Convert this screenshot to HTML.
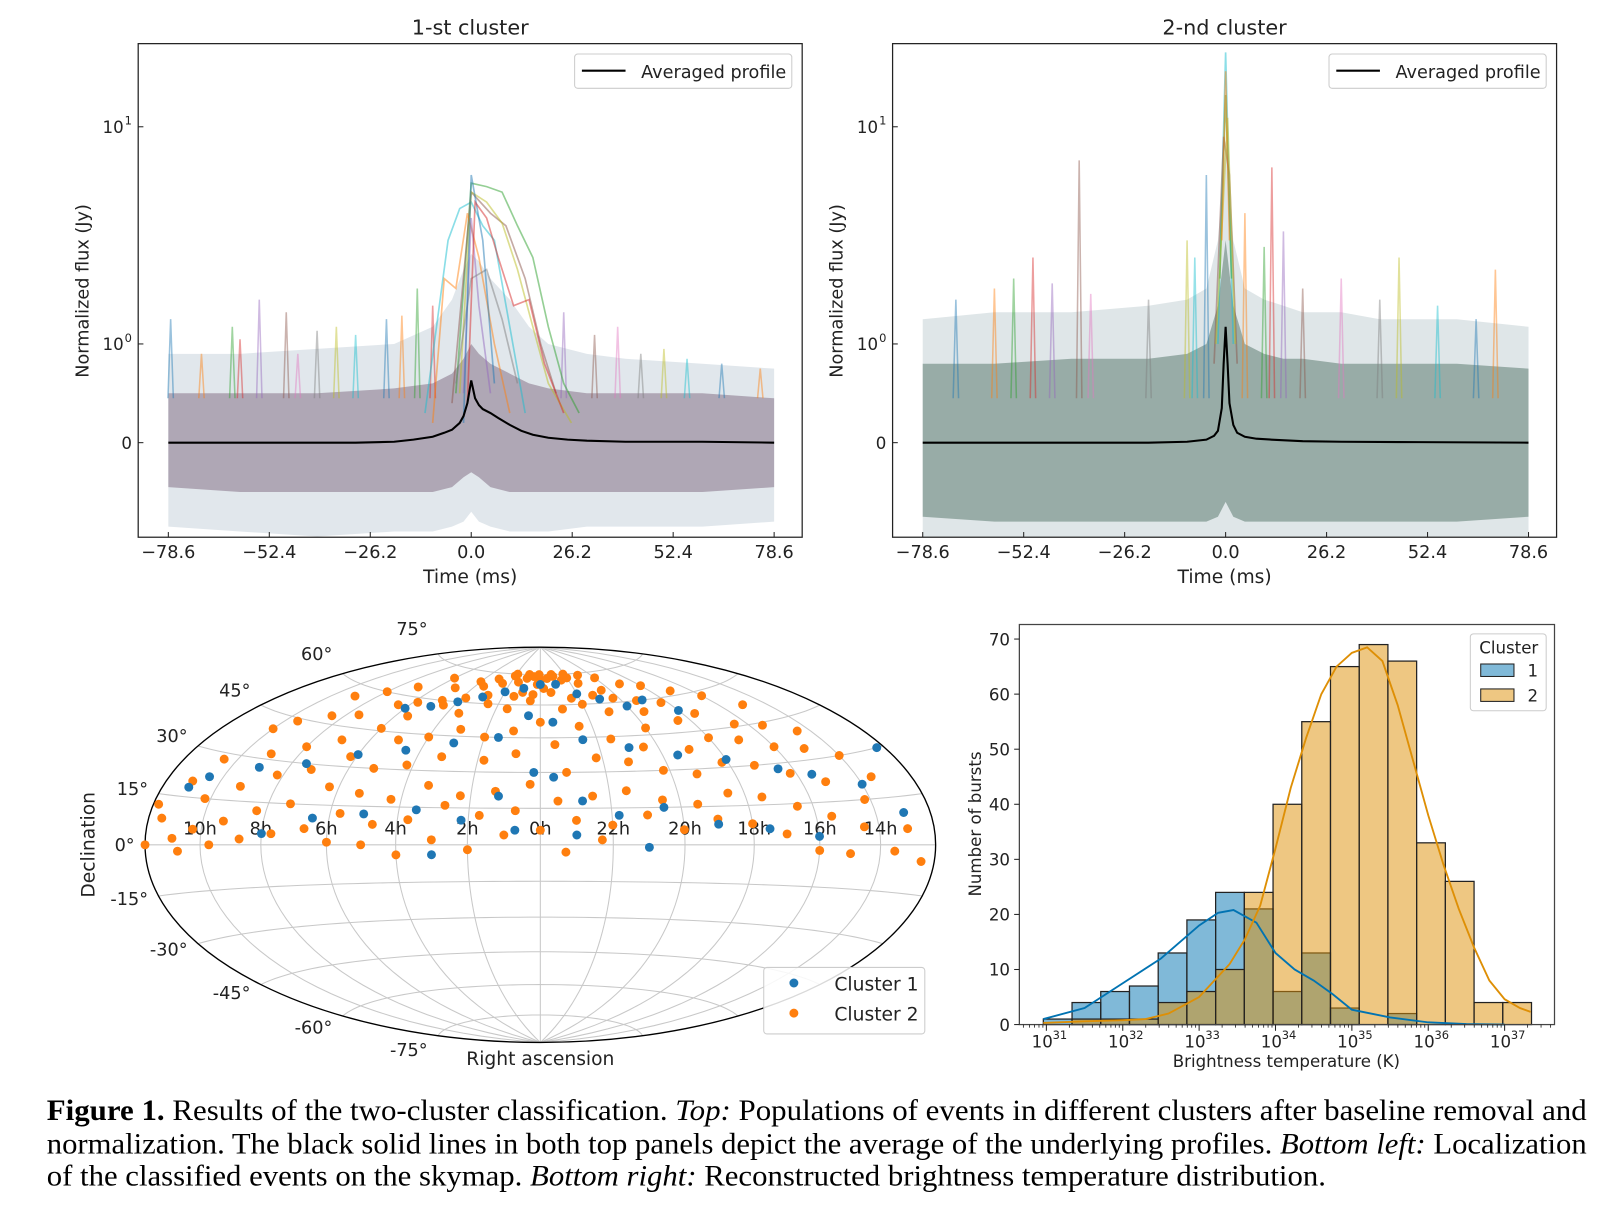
<!DOCTYPE html>
<html><head><meta charset="utf-8">
<style>
html,body{margin:0;padding:0;background:#fff;}
svg{display:block;}
text{font-family:"DejaVu Sans","Liberation Sans",sans-serif;fill:#222;}
.cap{font-family:"Liberation Serif",serif;font-size:28.5px;fill:#000;}
</style></head>
<body>
<svg id="fig" width="1621" height="1206" viewBox="0 0 1560 1160.6" preserveAspectRatio="none" xmlns="http://www.w3.org/2000/svg">
<g id="p1"></g>
<g id="p2"></g>
<g id="sky"></g>
<g id="hist"></g>
<g>
<text class="cap" x="45" y="1078" textLength="1482" lengthAdjust="spacingAndGlyphs"><tspan font-weight="bold">Figure 1.</tspan> Results of the two-cluster classification. <tspan font-style="italic">Top:</tspan> Populations of events in different clusters after baseline removal and</text>
<text class="cap" x="45" y="1110" textLength="1482" lengthAdjust="spacingAndGlyphs">normalization. The black solid lines in both top panels depict the average of the underlying profiles. <tspan font-style="italic">Bottom left:</tspan> Localization</text>
<text class="cap" x="45" y="1141" textLength="1231" lengthAdjust="spacingAndGlyphs">of the classified events on the skymap. <tspan font-style="italic">Bottom right:</tspan> Reconstructed brightness temperature distribution.</text>
</g>
</svg>
<script>
// ---------- data: top panels ----------
const times = [-78.6,-60,-40,-20,-10,-5,-2,0,2,5,10,15,20,30,40,60,78.6];
const c1CoreUp = [0.5,0.5,0.5,0.55,0.6,0.7,0.85,1.0,0.9,0.8,0.7,0.6,0.55,0.5,0.5,0.5,0.45];
const c1CoreLo = [-0.45,-0.5,-0.5,-0.5,-0.5,-0.45,-0.35,-0.3,-0.35,-0.45,-0.5,-0.5,-0.5,-0.5,-0.5,-0.5,-0.45];
const c1OutUp = [0.9,0.9,0.95,1.0,1.2,1.6,2.2,2.6,2.4,2.0,1.6,1.2,1.0,0.9,0.85,0.8,0.75];
const c1OutLo = [-0.85,-0.9,-0.95,-0.9,-0.9,-0.85,-0.8,-0.7,-0.8,-0.85,-0.9,-0.9,-0.9,-0.85,-0.85,-0.85,-0.8];
const c2CoreUp = [0.8,0.8,0.85,0.85,0.9,1.0,1.5,3,1.5,1.0,0.9,0.85,0.85,0.8,0.8,0.8,0.75];
const c2CoreLo = [-0.75,-0.8,-0.8,-0.8,-0.8,-0.8,-0.75,-0.6,-0.75,-0.8,-0.8,-0.8,-0.8,-0.8,-0.8,-0.8,-0.75];
const c2OutUp = [1.3,1.4,1.4,1.5,1.6,1.8,3,8,3,1.8,1.6,1.5,1.4,1.4,1.3,1.3,1.2];
const c2OutLo = [-0.97,-0.97,-0.97,-0.97,-0.97,-0.97,-0.97,-0.97,-0.97,-0.97,-0.97,-0.97,-0.97,-0.97,-0.97,-0.97,-0.97];
const c1Bursts = [
 [[-12,0.3],[-6,3],[-3,4.2],[0,4.5],[3,3.5],[6,3],[10,1.2],[14,0.3]],
 [[-4,0.5],[0,5.5],[4,5.3],[8,5],[12,3.5],[16,2.5],[20,1.2],[24,0.6],[28,0.3]],
 [[-5,0.4],[0,5],[5,4],[9,3.5],[14,2],[18,1],[22,0.5]],
 [[-3,0.5],[0,5],[4,4.5],[8,3.6],[12,2.2],[16,1.2],[20,0.6],[26,0.2]],
 [[-10,0.2],[-7,2],[-4,1.8],[-1,4],[2,2.5],[6,1],[10,0.3]],
 [[-2,0.5],[0,3.8],[2,1.5],[5,0.5]],
 [[-4,0.6],[0,2],[4,2.2],[8,1.3],[12,0.6]],
 [[-2,0.2],[0,6],[3,3],[6,0.6]],
 [[-1,0.4],[1,4.5],[4,3.8],[7,2.5],[11,1.5],[15,1.6],[19,0.8],[24,0.3]]
];
const c2Bursts = [
 [[-2,1],[0,22],[2,1]],
 [[-1.5,2],[0,14],[1.5,2]],
 [[-3,0.8],[-0.5,9],[1,6],[3,0.8]],
 [[-2.5,1],[0.5,11],[2.5,1]],
 [[-1,3],[0,18],[1,3]]
];
const c1Spikes = [[-78,1.3],[-70,0.9],[-62,1.2],[-60,1.05],[-55,1.6],[-48,1.4],[-45,0.9],[-40,1.15],[-35,1.2],[-30,1.1],[-22,1.3],[-18,1.35],[-14,1.8],[-10,1.5],[24,1.4],[32,1.1],[38,1.2],[44,0.9],[50,0.95],[56,0.85],[65,0.8],[75,0.75]];
const c2Spikes = [[-70,1.6],[-60,1.8],[-55,2.0],[-50,2.5],[-45,1.9],[-38,7],[-35,1.7],[-20,1.6],[-10,3],[-8,2.5],[-5,6],[5,4],[10,2.8],[12,6.5],[15,3.3],[20,1.8],[30,2],[40,1.6],[45,2.5],[55,1.5],[65,1.3],[70,2.2]];
const avg1T = [-78.6,-70,-60,-50,-40,-30,-20,-15,-10,-7,-5,-3,-2,-1,0,1,2,3,5,7,10,13,16,20,25,30,40,50,60,78.6];
const avg1V = [0,0,0,0,0,0,0.01,0.03,0.06,0.1,0.13,0.2,0.27,0.4,0.63,0.45,0.38,0.34,0.3,0.25,0.18,0.12,0.08,0.05,0.03,0.02,0.01,0.01,0.01,0];
const avg2T = [-78.6,-60,-40,-20,-10,-5,-3,-2,-1,-0.5,0,0.5,1,2,3,5,8,12,20,30,50,78.6];
const avg2V = [0,0,0,0,0.01,0.03,0.07,0.12,0.35,0.8,1.2,0.8,0.4,0.18,0.1,0.06,0.04,0.03,0.015,0.01,0.005,0];
const timeTicks = [-78.6,-52.4,-26.2,0,26.2,52.4,78.6];
const timeTickLabels = ["\u221278.6","\u221252.4","\u221226.2","0.0","26.2","52.4","78.6"];

// ---------- data: skymap ----------
const orangeRA = [0,0.5,1,23.5,23,1.5,22.5,2,22,0.2,23.8,1,2.5,21.5,3,21,3.5,20.5,4,20,5,19,6,18,7,17,8,16,9,15,0.5,1.5,2.5,23,22,21,3.5,4.5,19.5,18.5,5.5,6.5,7.5,8.5,9.5,10,14.5,15.5,16.5,17.5,20,22.5,0,1,2,3,4,5,6,7,8,9,10.5,11,13.5,14,15,16,17,18,19,20.5,21.5,23.5,0.8,1.8,3.2,4.2,5.2,6.2,7.2,8.2,9.2,10.2,11.5,12.5,13,14.2,15.2,16.2,17.2,18.2,19.2,20.2,21.2,22.2,23.2,0.3,1.3,2.3,3.3,4.3,5.3,6.3,7.3,8.3,9.3,10.3,11,12,13.5,14.5,15.5,16.5,17.5,18.5,19.5,20.5,21.5,22.5,23.5,0.7,1.7,2.7,3.7,4.7,5.7,6.7,7.7,8.7,9.7,18,17,16,15,19,20,21,22,23,0,1,2,3,23.3,22.3,4,5,6,10.8,11.8,0.1,0.9,1.9,23.1,22.1,2.8,21.2,3.8,20.3,4.8,19.3,5.8,18.3,0.4,1.4,23.4,22.4];
const orangeDec = [72,74,73,73,74,71,72,74,73,70,68,66,70,70,72,74,68,66,70,72,66,68,70,66,64,62,60,58,56,52,62,58,60,58,60,56,55,58,55,50,52,56,50,48,44,40,40,44,46,52,48,50,52,48,45,48,44,42,46,40,36,32,28,20,22,30,34,36,40,42,38,40,44,42,38,35,36,32,30,34,28,25,20,15,8,-5,5,15,22,26,30,32,28,30,34,36,30,25,22,20,24,18,20,22,15,12,8,5,2,0,-2,6,10,14,18,20,16,18,22,20,18,14,12,16,10,8,12,6,4,2,0,8,4,-2,-3,10,6,12,8,10,6,4,-2,2,-3,2,-4,0,1,-2,12,75,75,75,75,75,64,64,62,62,60,60,58,58,65,64,66,63];
const blueRA = [0,1,23,2,22,3,21,4,20,5,19,6,18,0.5,23.5,1.5,22.5,3,21,4.5,19.5,6,18,7.5,16.5,9,15.5,10.5,14,0.2,23.6,1.2,22.8,2.2,21.8,3.5,20.5,5,19,6.5,17.5,8,16,0.7,23,3,21,11,13,12.3];
const blueDec = [70,68,70,66,65,63,62,60,58,57,60,55,54,55,52,45,44,42,40,38,36,35,33,30,28,27,25,22,20,30,28,20,18,10,12,14,15,12,8,10,6,4,3,6,4,-4,-1,18,10,30];
const latTicks = [75,60,45,30,15,0,-15,-30,-45,-60,-75];
const raLabels = ["10h","8h","6h","4h","2h","0h","22h","20h","18h","16h","14h"];
const raLabelLon = [-150,-120,-90,-60,-30,0,30,60,90,120,150];

// ---------- data: histogram ----------
const binStart = 30.96, binWidth = 0.376;
const cluster1Counts = [1,4,6,7,13,19,24,21,6,13,3,0,2,0,0,0,0];
const cluster2Counts = [0,1,1,1,4,6,10,24,40,55,65,69,66,33,26,4,4];
const kde1X = [30.96,31.5,32,32.5,33,33.25,33.45,33.75,34,34.25,34.5,34.75,35,35.25,35.5,36,36.5,37];
const kde1Y = [1,3,7.5,12,18,20.3,20.8,18.5,13,10,8,5.5,2.7,2,1.3,0.4,0.1,0];
const kde2X = [30.96,31.5,32,32.3,32.6,33,33.2,33.4,33.6,33.8,34,34.2,34.4,34.6,34.8,35,35.2,35.4,35.6,35.8,36,36.2,36.4,36.6,36.8,37,37.2,37.34];
const kde2Y = [0.3,0.6,0.8,1,2,5,8,11,15.5,21.6,32,43,52,60,65,67.5,68.5,66,58,48,38,29,21,14,8,4.6,3,2.3];
const histYTicks = [0,10,20,30,40,50,60,70];
const histXTicks = [31,32,33,34,35,36,37];

// ---------- helpers ----------
const NS = "http://www.w3.org/2000/svg";
function mk(tag, attrs, parent){const e=document.createElementNS(NS,tag);for(const k in attrs)e.setAttribute(k,attrs[k]);if(parent)parent.appendChild(e);return e;}
function txt(parent,x,y,s,size,anchor,extra){const t=mk("text",Object.assign({x:x,y:y,"font-size":size,"text-anchor":anchor||"middle"},extra||{}),parent);t.textContent=s;return t;}
const tab = ["#1f77b4","#ff7f0e","#2ca02c","#d62728","#9467bd","#8c564b","#e377c2","#7f7f7f","#bcbd22","#17becf"];

function topPanel(g, x0, title, coreUp, coreLo, outUp, outLo, bursts, spikes, avgT, avgV, coreColor, outColor){
  const L=x0, R=x0+639, T=42, B=517;
  const xs = t => (L+29) + (t+78.6)/157.2*583;
  const ys = v => { if (Math.abs(v)<=1) return 426-95*v; return v>0 ? 331-209*Math.log10(v) : 426+95+209*Math.log10(-v); };
  const clipId = "clip"+x0;
  const cp = mk("clipPath",{id:clipId},g); mk("rect",{x:L,y:T,width:639,height:475},cp);
  const plot = mk("g",{"clip-path":"url(#"+clipId+")"},g);
  
  
  function band(up,lo,fill,op,name){
    let d="M"+times.map((t,i)=>xs(t).toFixed(1)+","+ys(up[i]).toFixed(1)).join("L");
    for(let i=times.length-1;i>=0;i--) d+="L"+xs(times[i]).toFixed(1)+","+ys(lo[i]).toFixed(1);
    const p=mk("path",{d:d+"Z",fill:fill,"fill-opacity":op},plot);
    
    
  }
  band(outUp,outLo,outColor,0.4,'noise-envelope-outer');
  band(coreUp,coreLo,coreColor,0.8,'noise-envelope-core');
  spikes.forEach((s,i)=>{
    const base = ys(0.45);
    const p=mk("polyline",{points:xs(s[0]-0.7)+","+base+" "+xs(s[0])+","+ys(s[1])+" "+xs(s[0]+0.7)+","+base,fill:"none",stroke:tab[i%10],"stroke-opacity":0.45,"stroke-width":1.5},plot);
    
    
  });
  bursts.forEach((b,i)=>{
    const p=mk("polyline",{points:b.map(q=>xs(q[0]).toFixed(1)+","+ys(q[1]).toFixed(1)).join(" "),fill:"none",stroke:tab[(i*3+9)%10],"stroke-opacity":0.5,"stroke-width":1.6},plot);
    
    
  });
  const a=mk("polyline",{points:avgT.map((t,i)=>xs(t).toFixed(1)+","+ys(avgV[i]).toFixed(1)).join(" "),fill:"none",stroke:"#000","stroke-width":2},plot);
  
  
  const fr=mk("rect",{x:L,y:T,width:639,height:475,fill:"none",stroke:"#222","stroke-width":1.2},g);
  
  
  timeTicks.forEach((t,i)=>{
    mk("line",{x1:xs(t),x2:xs(t),y1:B,y2:B-5,stroke:"#222"},g);
    const tl=txt(g,xs(t),B+20,timeTickLabels[i],17);
    
    
  });
  [[10,"10"],[1,"10"],[0,"0"]].forEach(q=>{
    const y=ys(q[0]); mk("line",{x1:L,x2:L+5,y1:y,y2:y,stroke:"#222"},g);
    const t=txt(g,L-6,y+6,q[1],16,"end");
    
    
    if(q[0]>0){t.setAttribute("x",L-14);const s=txt(g,L-6,y-2,q[0]===10?"1":"0",11,"end");}
  });
  const tt=txt(g,(L+R)/2,33,title,20);  
  const xt=txt(g,(L+R)/2,561,"Time (ms)",18);  
  const yt=txt(g,0,0,"Normalized flux (Jy)",17,"middle",{transform:"translate("+(L-48)+",280) rotate(-90)"});  
  const lg=mk("g",{},g);  
  mk("rect",{x:L+420,y:52,width:209,height:33,rx:3,fill:"#fff",stroke:"#ccc"},lg);
  mk("line",{x1:L+427,x2:L+469,y1:68,y2:68,stroke:"#000","stroke-width":2},lg);
  txt(lg,L+484,75,"Averaged profile",17,"start");
}
topPanel(document.getElementById("p1"),133,"1-st cluster",c1CoreUp,c1CoreLo,c1OutUp,c1OutLo,c1Bursts,c1Spikes,avg1T,avg1V,"#a397a8","#b4c2cf");
topPanel(document.getElementById("p2"),859,"2-nd cluster",c2CoreUp,c2CoreLo,c2OutUp,c2OutLo,c2Bursts,c2Spikes,avg2T,avg2V,"#869e96","#afc0c6");

// ---------- skymap ----------
(function(){
  const g=document.getElementById("sky");
  const cx=520, cy=813, a=134.5;
  function proj(lon,lat){const l=lon*Math.PI/180,p=lat*Math.PI/180;const d=Math.sqrt(1+Math.cos(p)*Math.cos(l/2));return [cx+a*2*Math.SQRT2*Math.cos(p)*Math.sin(l/2)/d, cy-a*Math.SQRT2*Math.sin(p)/d];}
  function raLon(h){let l=-h*15; if(l<-180)l+=360; return l;}
  const grid=mk("g",{stroke:"#c8c8c8","stroke-width":1,fill:"none"},g);
  
  
  for(let lat=-75;lat<=75;lat+=15){let pts=[];for(let lon=-180;lon<=180;lon+=5)pts.push(proj(lon,lat).join(","));mk("polyline",{points:pts.join(" ")},grid);}
  for(let lon=-150;lon<=150;lon+=30){let pts=[];for(let lat=-90;lat<=90;lat+=3)pts.push(proj(lon,lat).join(","));mk("polyline",{points:pts.join(" ")},grid);}
  const el=mk("ellipse",{cx:cx,cy:cy,rx:a*2*Math.SQRT2,ry:a*Math.SQRT2,fill:"none",stroke:"#000","stroke-width":1.3},g);
  
  
  raLabels.forEach((s,i)=>{const p=proj(raLabelLon[i],0);const t=txt(g,p[0],p[1]-10,s,17);});
  latTicks.forEach(lat=>{const p=proj(-180,lat);const dy = lat>0 ? -0.32*lat : -0.18*lat;const t=txt(g,p[0]-10,p[1]+6+dy,lat+"°",17,"end");});
  orangeRA.forEach((h,i)=>{const p=proj(raLon(h),orangeDec[i]);const c=mk("circle",{cx:p[0],cy:p[1],r:4.3,fill:"#ff7f0e"},g);});
  blueRA.forEach((h,i)=>{const p=proj(raLon(h),blueDec[i]);const c=mk("circle",{cx:p[0],cy:p[1],r:4.3,fill:"#1f77b4"},g);});
  const yt=txt(g,0,0,"Declination",18,"middle",{transform:"translate(91,813) rotate(-90)"});
  const xt=txt(g,520,1025,"Right ascension",18);
  const lg=mk("g",{},g);
  mk("rect",{x:735,y:931,width:155,height:64,rx:3,fill:"#fff","fill-opacity":0.85,stroke:"#ccc"},lg);
  mk("circle",{cx:764,cy:946,r:4.3,fill:"#1f77b4"},lg);txt(lg,803,953,"Cluster 1",18,"start");
  mk("circle",{cx:764,cy:975,r:4.3,fill:"#ff7f0e"},lg);txt(lg,803,982,"Cluster 2",18,"start");
})();

// ---------- histogram ----------
(function(){
  const g=document.getElementById("hist");
  const L=981,R=1496,T=601,B=986;
  const xl=v=>1007+(v-31)*73.5, yv=c=>986-c*5.3;
  function bars(counts,color,name){counts.forEach((c,i)=>{if(c<=0)return;const x0=xl(binStart+i*binWidth),x1=xl(binStart+(i+1)*binWidth);const r=mk("rect",{x:x0,y:yv(c),width:x1-x0,height:yv(0)-yv(c),fill:color,"fill-opacity":0.5,stroke:"#222","stroke-width":1.2},g);});}
  bars(cluster1Counts,"#0173b2","cluster1-bar");
  bars(cluster2Counts,"#de8f05","cluster2-bar");
  const k1=mk("polyline",{points:kde1X.map((x,i)=>xl(x)+","+yv(kde1Y[i])).join(" "),fill:"none",stroke:"#0173b2","stroke-width":1.8},g);
  const k2=mk("polyline",{points:kde2X.map((x,i)=>xl(x)+","+yv(kde2Y[i])).join(" "),fill:"none",stroke:"#de8f05","stroke-width":1.8},g);
  const fr=mk("rect",{x:L,y:T,width:R-L,height:B-T,fill:"none",stroke:"#444","stroke-width":1.2},g);
  histYTicks.forEach(v=>{mk("line",{x1:L,x2:L-5,y1:yv(v),y2:yv(v),stroke:"#222"},g);const t=txt(g,L-9,yv(v)+6,String(v),16,"end");});
  for(let d=30;d<=37;d++)for(let m=2;m<=9;m++){const x=xl(d+Math.log10(m));if(x>L&&x<R)mk("line",{x1:x,x2:x,y1:B,y2:B+3,stroke:"#222","stroke-width":0.8},g);}
  histXTicks.forEach(d=>{const x=xl(d);mk("line",{x1:x,x2:x,y1:B,y2:B+6,stroke:"#222"},g);const t=txt(g,x-4,B+22,"10",16);const s=txt(g,x+13,B+14,String(d),11);});
  const xt=txt(g,1238,1027,"Brightness temperature (K)",16);
  const yt=txt(g,0,0,"Number of bursts",16,"middle",{transform:"translate(944,793) rotate(-90)"});
  const lg=mk("g",{},g);
  mk("rect",{x:1415,y:610,width:73,height:74,rx:3,fill:"#fff",stroke:"#ccc"},lg);
  txt(lg,1452,629,"Cluster",16);
  mk("rect",{x:1425,y:639,width:32,height:12,fill:"#0173b2","fill-opacity":0.5,stroke:"#222"},lg);txt(lg,1470,651,"1",16,"start");
  mk("rect",{x:1425,y:663,width:32,height:12,fill:"#de8f05","fill-opacity":0.5,stroke:"#222"},lg);txt(lg,1470,675,"2",16,"start");
})();
</script>
</body></html>
